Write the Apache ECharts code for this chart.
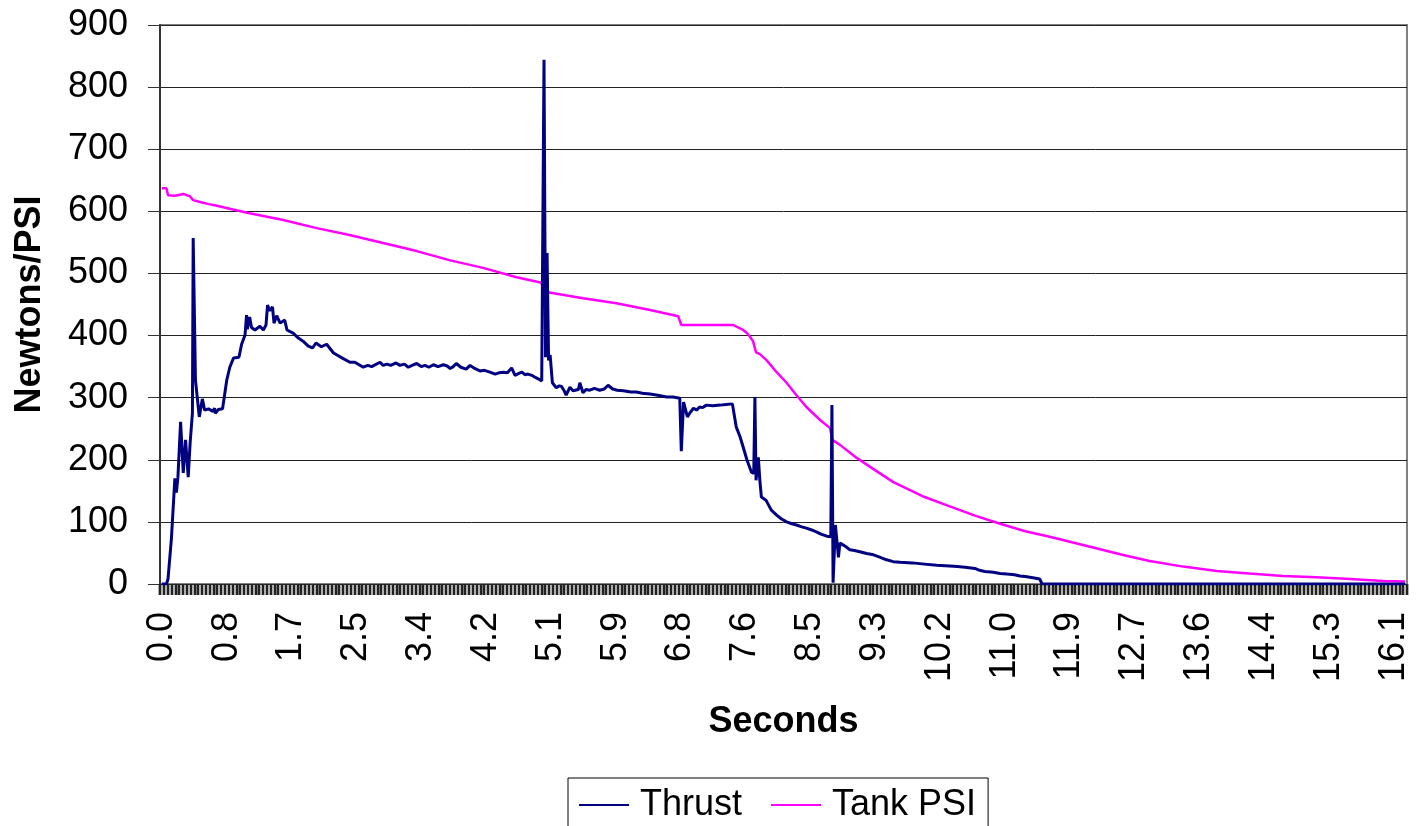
<!DOCTYPE html>
<html>
<head>
<meta charset="utf-8">
<script src="https://cdn.jsdelivr.net/npm/echarts@6/dist/echarts.min.js"></script>
<style>
html,body{margin:0;padding:0;background:#fff;}
#chart{width:1416px;height:826px;}
</style>
</head>
<body>
<div id="chart"></div>
<script>
// Thrust (Newtons) as [seconds, value]
const thrustData = [
[0,0],[0.06,0],[0.08,8],[0.10,10],[0.125,74],[0.15,74],[0.17,170],[0.19,147],[0.21,172],[0.245,261],
[0.28,179],[0.31,232],[0.345,172],[0.37,227],[0.40,275],[0.41,557],[0.44,328],[0.49,269],[0.53,298],[0.56,280],
[0.61,282],[0.67,278],[0.69,283],[0.70,275],[0.74,281],[0.795,282],[0.85,328],[0.89,349],[0.94,364],[1.01,365],
[1.045,386],[1.09,401],[1.11,433],[1.12,410],[1.15,430],[1.175,413],[1.22,409],[1.285,415],[1.33,409],[1.365,417],
[1.385,449],[1.415,440],[1.45,446],[1.47,420],[1.505,432],[1.55,420],[1.61,425],[1.64,409],[1.72,404],[1.79,396],
[1.85,391],[1.92,383],[1.975,380],[2.02,388],[2.09,382],[2.16,386],[2.25,372],[2.29,369],[2.36,364],[2.465,357],
[2.53,357],[2.64,349],[2.70,352],[2.75,350],[2.86,357],[2.90,352],[2.95,354],[3.0,352],[3.07,356],[3.12,352],
[3.18,354],[3.23,349],[3.28,352],[3.34,355],[3.40,350],[3.45,352],[3.50,349],[3.56,353],[3.62,350],[3.69,353],
[3.74,351],[3.78,347],[3.82,350],[3.86,355],[3.92,349],[3.99,346],[4.04,352],[4.10,347],[4.17,343],[4.23,344],
[4.30,341],[4.37,338],[4.42,340],[4.475,341],[4.53,340],[4.585,348],[4.63,336],[4.68,339],[4.72,341],[4.76,337],
[4.80,338],[4.85,336],[4.89,333],[4.94,330],[4.98,327],[5.01,844],[5.03,365],[5.05,533],[5.07,360],[5.09,369],
[5.12,324],[5.17,316],[5.21,319],[5.24,318],[5.27,312],[5.30,304],[5.35,317],[5.39,311],[5.42,312],[5.46,313],
[5.48,324],[5.52,308],[5.56,313],[5.61,312],[5.67,315],[5.74,312],[5.80,314],[5.85,320],[5.91,314],[5.97,312],
[6.05,311],[6.15,309],[6.22,309],[6.30,307],[6.40,306],[6.50,304],[6.62,301],[6.70,301],[6.79,299],[6.81,214],
[6.84,293],[6.89,269],[6.92,275],[6.97,283],[7.01,280],[7.05,285],[7.09,284],[7.14,288],[7.22,287],[7.32,288],
[7.40,289],[7.48,290],[7.53,253],[7.58,237],[7.62,221],[7.67,200],[7.73,180],[7.76,178],[7.775,301],[7.79,167],
[7.82,204],[7.84,167],[7.86,140],[7.92,135],[7.99,119],[8.06,111],[8.12,105],[8.19,100],[8.26,97],[8.32,95],
[8.39,92],[8.45,90],[8.52,87],[8.58,84],[8.65,80],[8.72,77],[8.77,76],[8.785,288],[8.80,2],[8.83,95],
[8.85,70],[8.87,43],[8.89,66],[8.93,63],[8.97,60],[9.02,55],[9.08,54],[9.15,52],[9.24,49],[9.33,47],
[9.42,43],[9.50,39],[9.59,36],[9.68,35],[9.84,34],[10.00,32],[10.16,30],[10.33,29],[10.43,28],[10.53,27],
[10.66,25],[10.72,22],[10.79,20],[10.90,19],[10.99,17],[11.08,16],[11.18,15],[11.25,13],[11.32,12],[11.42,10],
[11.51,8],[11.54,0],[16.30,0]
];
// Tank pressure (PSI) as [seconds, value]
const psiData = [
[0,637],[0.06,637],[0.08,626],[0.17,625],[0.28,628],[0.37,624],[0.41,618],[0.50,615],[0.60,612],[0.72,609],
[0.93,603],[1.15,597],[1.59,586],[2.03,573],[2.46,562],[2.90,549],[3.34,536],[3.78,521],[4.21,509],[4.65,494],
[4.98,485],[5.01,462],[5.04,470],[5.52,460],[5.96,452],[6.40,441],[6.77,431],[6.81,417],[7.49,417],[7.62,409],
[7.67,404],[7.71,398],[7.75,391],[7.79,373],[7.84,370],[7.93,360],[8.06,341],[8.19,324],[8.32,304],[8.45,285],
[8.63,264],[8.76,251],[8.79,232],[8.89,224],[9.11,203],[9.33,185],[9.59,164],[10.00,140],[10.33,125],[10.66,110],
[10.99,97],[11.32,85],[11.64,76],[11.97,66],[12.30,56],[12.63,46],[12.95,37],[13.39,28],[13.83,21],[14.26,17],
[14.70,13],[15.14,11],[15.58,8],[16.01,5],[16.30,4]
];
const tickValues = [0,0.85,1.7,2.55,3.4,4.25,5.1,5.95,6.8,7.65,8.5,9.35,10.2,11.05,11.9,12.75,13.6,14.45,15.3,16.15];
const tickLabels = ['0.0','0.8','1.7','2.5','3.4','4.2','5.1','5.9','6.8','7.6','8.5','9.3','10.2','11.0','11.9','12.7','13.6','14.4','15.3','16.1'];
const yTicks = [0,100,200,300,400,500,600,700,800,900];

// Excel-style category slots: 0.05 s samples, tick marks on slot boundaries
const SAMPLE = 0.05, NCAT = 327;
const xMin = -SAMPLE/2, xMax = xMin + NCAT*SAMPLE;
const slots = [], slotBounds = [];
for (let k = 0; k < NCAT; k++) slots.push('s' + k);
for (let k = 0; k <= NCAT; k++) slotBounds.push(+(xMin + k*SAMPLE).toFixed(4));

const FONT = '"Liberation Sans", Arial, sans-serif';
const TICK = {color:'#222', width:2.4};
const chart = echarts.init(document.getElementById('chart'), null, {renderer:'canvas'});
chart.setOption({
  animation:false,
  backgroundColor:'#fff',
  grid:{left:160,right:9,top:25,bottom:242,show:true,borderColor:'#808080',borderWidth:2,backgroundColor:'#fff'},
  legend:{
    left:568, top:778,
    data:['Thrust','Tank PSI'],
    icon:'rect', itemWidth:50, itemHeight:2, itemGap:29,
    borderColor:'#000', borderWidth:1, padding:[9,12,40,11],
    textStyle:{fontFamily:FONT,fontSize:36,color:'#000',padding:[0,0,0,6]}
  },
  xAxis:[{
    type:'value', min:xMin, max:xMax, position:'bottom',
    name:'Seconds', nameLocation:'middle', nameGap:120,
    nameTextStyle:{fontFamily:FONT,fontSize:36,fontWeight:'bold',color:'#000'},
    axisLine:{show:true,onZero:false,lineStyle:{color:'#333',width:1}},
    axisTick:{show:true,customValues:slotBounds,length:11,lineStyle:TICK},
    axisLabel:{customValues:tickValues,rotate:90,margin:28,fontFamily:FONT,fontSize:36,color:'#000',
      formatter:function(v){const i=tickValues.findIndex(t=>Math.abs(t-v)<1e-6);return i>=0?tickLabels[i]:'';}},
    splitLine:{show:false}
  },{
    type:'category', data:slots, position:'bottom', boundaryGap:true, min:0, max:NCAT-1, offset:0,
    axisLine:{show:false,onZero:false},
    axisTick:{show:true,interval:0,length:11,lineStyle:TICK},
    axisLabel:{show:false}, splitLine:{show:false}
  }],
  yAxis:{
    type:'value', min:0, max:900, interval:100,
    name:'Newtons/PSI', nameLocation:'middle', nameRotate:90, nameGap:112,
    nameTextStyle:{fontFamily:FONT,fontSize:36,fontWeight:'bold',color:'#000'},
    axisLine:{show:true,onZero:false,lineStyle:{color:'#333',width:2}},
    axisTick:{show:true,length:12,lineStyle:{color:'#333',width:1}},
    axisLabel:{margin:32,fontFamily:FONT,fontSize:36,color:'#000',
      formatter:function(v){return yTicks.indexOf(v)>=0?String(v):'';}},
    splitLine:{show:true,lineStyle:{color:'#222',width:1}}
  },
  series:[
    {name:'Thrust',type:'line',xAxisIndex:0,data:thrustData,symbol:'none',showSymbol:false,z:3,
     lineStyle:{color:'#000080',width:3},itemStyle:{color:'#000080'}},
    {name:'Tank PSI',type:'line',xAxisIndex:0,data:psiData,symbol:'none',showSymbol:false,z:2,
     lineStyle:{color:'#FF00FF',width:2.5},itemStyle:{color:'#FF00FF'}}
  ]
});
</script>
</body>
</html>
